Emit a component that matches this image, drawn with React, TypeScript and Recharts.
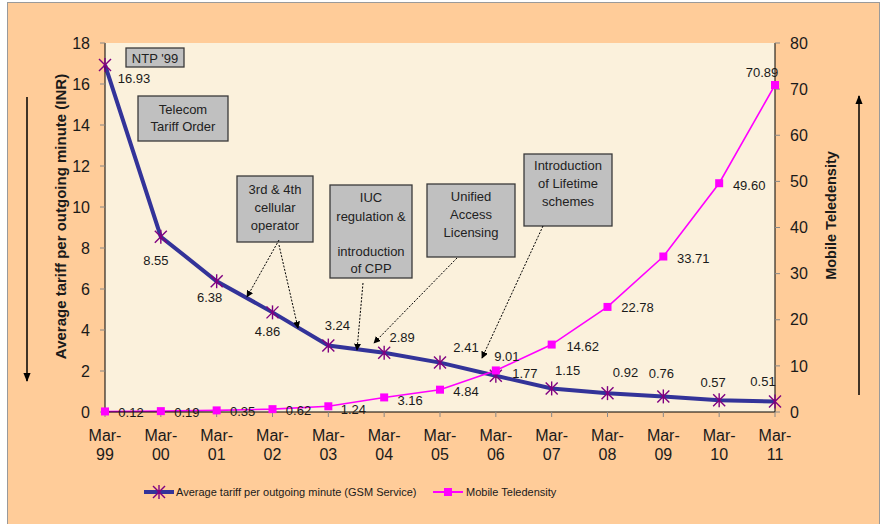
import {
  LineChart, Line, XAxis, YAxis, CartesianGrid, Legend, LabelList,
} from "recharts";

// Mar-99 .. Mar-11
const categories = [
  "Mar-99", "Mar-00", "Mar-01", "Mar-02", "Mar-03", "Mar-04", "Mar-05",
  "Mar-06", "Mar-07", "Mar-08", "Mar-09", "Mar-10", "Mar-11",
];
const tariff = [16.93, 8.55, 6.38, 4.86, 3.24, 2.89, 2.41, 1.77, 1.15, 0.92, 0.76, 0.57, 0.51];
const teledensity = [0.12, 0.19, 0.35, 0.62, 1.24, 3.16, 4.84, 9.01, 14.62, 22.78, 33.71, 49.6, 70.89];
const tariffTicks = [0, 2, 4, 6, 8, 10, 12, 14, 16, 18];
const teleTicks = [0, 10, 20, 30, 40, 50, 60, 70, 80];

const data = categories.map((month, i) => ({
  month,
  tariff: tariff[i],
  teledensity: teledensity[i],
}));

// label placement (dx, dy from the point), per point
const tariffLabelPos = [
  [29, 14], [-5, 24], [-7, 16], [-5, 19], [9, -20], [18, -15], [26, -15],
  [29, -2], [16, -18], [18, -21], [-2, -23], [-6, -18], [-12, -20],
];
const teleLabelPos = [
  [26, 1], [26, 1], [26, 1], [26, 1], [25, 3], [26, 3], [26, 2],
  [11, -14], [31, 2], [30, 1], [30, 2], [30, 2], [-13, -13],
];

const FONT = "Arial, 'Liberation Sans', sans-serif";
const NAVY = "#333399";
const PURPLE = "#800080";
const PINK = "#FF00FF";
const TXT = "#1a1a1a";

const Star = ({ cx, cy }: { cx: number; cy: number }) => (
  <g stroke={PURPLE} strokeWidth={1.4}>
    <line x1={cx - 6} y1={cy - 6} x2={cx + 6} y2={cy + 6} />
    <line x1={cx - 6} y1={cy + 6} x2={cx + 6} y2={cy - 6} />
    <line x1={cx} y1={cy - 7} x2={cx} y2={cy + 7} />
  </g>
);

const Square = ({ cx, cy }: { cx: number; cy: number }) => (
  <rect x={cx - 4} y={cy - 4} width={8} height={8} fill={PINK} />
);

const makeLabel = (pos: number[][]) => (props: any) => {
  const { x, y, value, index } = props;
  const [dx, dy] = pos[index] || [0, 0];
  return (
    <text x={x + dx} y={y + dy} dy="0.35em" textAnchor="middle"
      fontFamily={FONT} fontSize={13} fill={TXT}>
      {Number(value).toFixed(2)}
    </text>
  );
};

const MonthTick = (props: any) => {
  const { x, y, payload } = props;
  const [a, b] = String(payload.value).split("-");
  return (
    <text x={x} y={y} textAnchor="middle" fontFamily={FONT} fontSize={16} fill={TXT}>
      <tspan x={x} dy={22}>{a}-</tspan>
      <tspan x={x} dy={19}>{b}</tspan>
    </text>
  );
};

const LegendBox = () => (
  <div style={{ position: "relative", width: 885, height: 40 }}>
    <svg width={885} height={40} style={{ position: "absolute", left: 0, top: 0 }}>
      <line x1={144} x2={174} y1={8} y2={8} stroke={NAVY} strokeWidth={4} />
      <Star cx={159} cy={8} />
      <text x={176} y={12} fontFamily={FONT} fontSize={11} fill={TXT}>
        Average tariff per outgoing minute (GSM Service)
      </text>
      <line x1={433} x2={463} y1={8} y2={8} stroke={PINK} strokeWidth={2} />
      <Square cx={448} cy={8} />
      <text x={466} y={12} fontFamily={FONT} fontSize={11} fill={TXT}>
        Mobile Teledensity
      </text>
    </svg>
  </div>
);

type Note = { x: number; y: number; w: number; h: number; lines: string[]; ys: number[] };
const notes: Note[] = [
  { x: 126, y: 48, w: 58, h: 19, lines: ["NTP '99"], ys: [58] },
  { x: 138, y: 96, w: 90, h: 45, lines: ["Telecom", "Tariff Order"], ys: [109, 126] },
  { x: 237, y: 176, w: 76, h: 66, lines: ["3rd & 4th", "cellular", "operator"], ys: [189, 207, 225] },
  { x: 330, y: 185, w: 82, h: 93, lines: ["IUC", "regulation &", "introduction", "of CPP"], ys: [197, 216, 251, 268] },
  { x: 427, y: 184, w: 88, h: 73, lines: ["Unified", "Access", "Licensing"], ys: [196, 214, 232] },
  { x: 524, y: 154, w: 88, h: 72, lines: ["Introduction", "of Lifetime", "schemes"], ys: [165, 183, 201] },
];
const pointers = [
  [279, 240, 247, 297],
  [279, 245, 298, 328],
  [363, 283, 357, 350],
  [457, 258, 374, 343],
  [543, 226, 482, 358],
];

const Overlay = () => (
  <svg width={885} height={524} style={{ position: "absolute", left: 0, top: 0, pointerEvents: "none" }}>
    <defs>
      <marker id="ah" viewBox="0 0 10 10" refX="9" refY="5" markerWidth="7" markerHeight="7"
        orient="auto" markerUnits="userSpaceOnUse">
        <path d="M0,0 L10,5 L0,10 z" fill="#000" />
      </marker>
      <marker id="ah2" viewBox="0 0 10 10" refX="9" refY="5" markerWidth="9" markerHeight="9"
        orient="auto" markerUnits="userSpaceOnUse">
        <path d="M0,1 L10,5 L0,9 z" fill="#000" />
      </marker>
    </defs>
    {notes.map((n, i) => (
      <g key={i}>
        <rect x={n.x} y={n.y} width={n.w} height={n.h} fill="#C0C0C0" stroke="#3a3a3a" strokeWidth={1.3} />
        {n.lines.map((l, j) => (
          <text key={j} x={n.x + n.w / 2} y={n.ys[j]} dy="0.35em" textAnchor="middle"
            fontFamily={FONT} fontSize={13} fill="#222">{l}</text>
        ))}
      </g>
    ))}
    {pointers.map((p, i) => (
      <line key={i} x1={p[0]} y1={p[1]} x2={p[2]} y2={p[3]} stroke="#000" strokeWidth={1}
        strokeDasharray="2 1.5" markerEnd="url(#ah)" />
    ))}
    <line x1={27} y1={97} x2={27} y2={381} stroke="#000" strokeWidth={1.5} markerEnd="url(#ah2)" />
    <line x1={859} y1={395} x2={859} y2={96} stroke="#000" strokeWidth={1.5} markerEnd="url(#ah2)" />
  </svg>
);

export default function App() {
  return (
    <div style={{ position: "absolute", left: 0, top: 0, width: 885, height: 524, background: "#fff", overflow: "hidden" }}>
      <div style={{
        position: "absolute", left: 7, top: 2, width: 873, height: 530, boxSizing: "border-box",
        border: "1px solid #9a9a9a", background: "#FFCC99",
      }} />
      <div style={{ position: "absolute", left: 0, top: 0 }}>
        <LineChart width={885} height={524} data={data} margin={{ top: 43, right: 0, bottom: 0, left: 0 }}>
          <CartesianGrid horizontal={false} vertical={false} fill="#FBF1DC" stroke="none" />
          <XAxis dataKey="month" height={72} tick={<MonthTick />} interval={0}
            axisLine={{ stroke: "#000" }} tickLine={{ stroke: "#888" }} tickSize={5} />
          <YAxis yAxisId="l" orientation="left" width={105} domain={[0, 18]} ticks={tariffTicks}
            tick={{ fill: TXT, fontSize: 16, fontFamily: FONT }} tickMargin={10} tickSize={5}
            axisLine={{ stroke: "#000" }} tickLine={{ stroke: "#888" }}
            label={{
              value: "Average tariff per outgoing minute (INR)", angle: -90, position: "insideLeft",
              dx: 56, dy: -11, fill: TXT, fontSize: 15, fontWeight: "bold", fontFamily: FONT, style: { textAnchor: "middle" },
            }} />
          <YAxis yAxisId="r" orientation="right" width={110} domain={[0, 80]} ticks={teleTicks}
            tick={{ fill: TXT, fontSize: 16, fontFamily: FONT }} tickMargin={10} tickSize={5}
            axisLine={{ stroke: "#000" }} tickLine={{ stroke: "#888" }}
            label={{
              value: "Mobile Teledensity", angle: -90, position: "insideRight",
              dx: -49, dy: -12, fill: TXT, fontSize: 14.5, fontWeight: "bold", fontFamily: FONT, style: { textAnchor: "middle" },
            }} />
          <Legend verticalAlign="bottom" content={<LegendBox />} />
          <Line yAxisId="l" dataKey="tariff" type="linear" stroke={NAVY} strokeWidth={4}
            dot={(p: any) => <Star key={p.index} cx={p.cx} cy={p.cy} />} isAnimationActive={false}>
            <LabelList dataKey="tariff" content={makeLabel(tariffLabelPos)} />
          </Line>
          <Line yAxisId="r" dataKey="teledensity" type="linear" stroke={PINK} strokeWidth={1.6}
            dot={(p: any) => <Square key={p.index} cx={p.cx} cy={p.cy} />} isAnimationActive={false}>
            <LabelList dataKey="teledensity" content={makeLabel(teleLabelPos)} />
          </Line>
        </LineChart>
      </div>
      <Overlay />
    </div>
  );
}
